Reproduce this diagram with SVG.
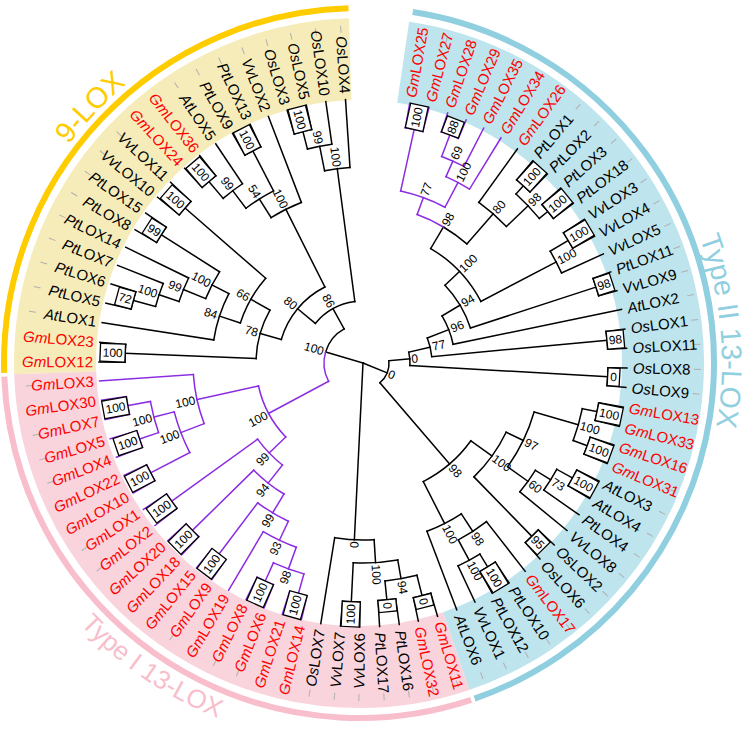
<svg xmlns="http://www.w3.org/2000/svg" width="754" height="730" viewBox="0 0 754 730">
<style>
.k{stroke:#000;stroke-width:1.5;fill:none;stroke-linecap:square}
.p{stroke:#8B2BE2;stroke-width:1.5;fill:none;stroke-linecap:square}
.bx{stroke:#000;stroke-width:1.3;fill:#fff}
.lf text{font-family:"Liberation Sans",Arial,sans-serif;font-size:15px}
.lf .r{fill:#FF0000}
.bs text{font-family:"Liberation Sans",Arial,sans-serif;font-size:12px;text-anchor:middle}
.tk line{stroke:#b0b0b0;stroke-width:1}
.i{font-style:italic}
</style>
<defs>
<path id="cw" d="M -363 0 A 363 363 0 1 1 363 0 A 363 363 0 1 1 -363 0"/>
<path id="ccw" d="M 382 0 A 382 382 0 1 0 -382 0 A 382 382 0 1 0 382 0"/>
</defs>
<rect width="754" height="730" fill="#fff"/>
<g id="bands" transform="translate(359 363)" fill="none" stroke-width="82">
<circle r="304" stroke="#F6ECBA" pathLength="360" stroke-dasharray="90.2 400" transform="rotate(178.15)"/>
<circle r="304" stroke="#BEE4ED" pathLength="360" stroke-dasharray="153 400" transform="rotate(278.35)"/>
<circle r="304" stroke="#F9D4DC" pathLength="360" stroke-dasharray="106.8 400" transform="rotate(71.35)"/>
</g>
<g id="group-arcs" transform="translate(359 363)" fill="none" stroke-width="6">
<circle r="355" stroke="#FFCC00" pathLength="360" stroke-dasharray="89.9 400" transform="rotate(178.4)"/>
<circle r="355" stroke="#90CFE0" pathLength="360" stroke-dasharray="152.3 400" transform="rotate(278.7)"/>
<circle r="355" stroke="#F8BECB" pathLength="360" stroke-dasharray="106.2 400" transform="rotate(71.6)"/>
</g>
<g id="group-labels" transform="translate(359 363)" font-family="Liberation Sans, Arial, sans-serif">
<text font-size="29" fill="#FFCC00"><textPath href="#cw" startOffset="276" text-anchor="middle">9-LOX</textPath></text>
<text font-size="28.5" fill="#90CFE0"><textPath href="#cw" startOffset="1108" text-anchor="middle">Type II 13-LOX</textPath></text>
<text font-size="26" fill="#F8BECB"><textPath href="#ccw" startOffset="1571" text-anchor="middle">Type I 13-LOX</textPath></text>
</g>
<g transform="translate(363 363)">
<g class="tk" id="ticks">
<line x1="331" x2="338" transform="rotate(180.2)"/><line x1="331" x2="338" transform="rotate(184.5)"/><line x1="331" x2="338" transform="rotate(188.8)"/><line x1="331" x2="338" transform="rotate(193.1)"/><line x1="331" x2="338" transform="rotate(197.4)"/><line x1="331" x2="338" transform="rotate(201.7)"/><line x1="331" x2="338" transform="rotate(206)"/><line x1="331" x2="338" transform="rotate(210.3)"/><line x1="331" x2="338" transform="rotate(214.6)"/><line x1="331" x2="338" transform="rotate(218.9)"/><line x1="331" x2="338" transform="rotate(223.2)"/><line x1="331" x2="338" transform="rotate(227.5)"/><line x1="331" x2="338" transform="rotate(231.8)"/><line x1="331" x2="338" transform="rotate(236.1)"/><line x1="331" x2="338" transform="rotate(240.4)"/><line x1="331" x2="338" transform="rotate(244.7)"/><line x1="331" x2="338" transform="rotate(249)"/><line x1="331" x2="338" transform="rotate(253.3)"/><line x1="331" x2="338" transform="rotate(257.6)"/><line x1="331" x2="338" transform="rotate(261.9)"/><line x1="331" x2="338" transform="rotate(266.2)"/>
<line x1="331" x2="338" transform="rotate(280.2)"/><line x1="331" x2="338" transform="rotate(284.5)"/><line x1="331" x2="338" transform="rotate(288.7)"/><line x1="331" x2="338" transform="rotate(293)"/><line x1="331" x2="338" transform="rotate(297.2)"/><line x1="331" x2="338" transform="rotate(301.5)"/><line x1="331" x2="338" transform="rotate(305.8)"/><line x1="331" x2="338" transform="rotate(310)"/><line x1="331" x2="338" transform="rotate(314.3)"/><line x1="331" x2="338" transform="rotate(318.5)"/><line x1="331" x2="338" transform="rotate(322.8)"/><line x1="331" x2="338" transform="rotate(327)"/><line x1="331" x2="338" transform="rotate(331.3)"/><line x1="331" x2="338" transform="rotate(335.6)"/><line x1="331" x2="338" transform="rotate(339.8)"/><line x1="331" x2="338" transform="rotate(344.1)"/><line x1="331" x2="338" transform="rotate(348.3)"/><line x1="331" x2="338" transform="rotate(352.6)"/><line x1="331" x2="338" transform="rotate(356.8)"/>
<line x1="331" x2="338" transform="rotate(1.1)"/><line x1="331" x2="338" transform="rotate(5.3)"/><line x1="331" x2="338" transform="rotate(9.6)"/><line x1="331" x2="338" transform="rotate(13.9)"/><line x1="331" x2="338" transform="rotate(18.1)"/><line x1="331" x2="338" transform="rotate(22.4)"/><line x1="331" x2="338" transform="rotate(26.6)"/><line x1="331" x2="338" transform="rotate(30.9)"/><line x1="331" x2="338" transform="rotate(35.1)"/><line x1="331" x2="338" transform="rotate(39.4)"/><line x1="331" x2="338" transform="rotate(43.6)"/><line x1="331" x2="338" transform="rotate(47.9)"/><line x1="331" x2="338" transform="rotate(52.1)"/><line x1="331" x2="338" transform="rotate(56.4)"/><line x1="331" x2="338" transform="rotate(60.7)"/><line x1="331" x2="338" transform="rotate(64.9)"/><line x1="331" x2="338" transform="rotate(69.2)"/>
<line x1="331" x2="338" transform="rotate(73.6)"/><line x1="331" x2="338" transform="rotate(77.9)"/><line x1="331" x2="338" transform="rotate(82.1)"/><line x1="331" x2="338" transform="rotate(86.4)"/><line x1="331" x2="338" transform="rotate(90.7)"/><line x1="331" x2="338" transform="rotate(94.9)"/><line x1="331" x2="338" transform="rotate(99.2)"/><line x1="331" x2="338" transform="rotate(103.5)"/><line x1="331" x2="338" transform="rotate(107.8)"/><line x1="331" x2="338" transform="rotate(112)"/><line x1="331" x2="338" transform="rotate(116.3)"/><line x1="331" x2="338" transform="rotate(120.6)"/><line x1="331" x2="338" transform="rotate(124.9)"/><line x1="331" x2="338" transform="rotate(129.1)"/><line x1="331" x2="338" transform="rotate(133.4)"/><line x1="331" x2="338" transform="rotate(137.7)"/><line x1="331" x2="338" transform="rotate(142)"/><line x1="331" x2="338" transform="rotate(146.3)"/><line x1="331" x2="338" transform="rotate(150.5)"/><line x1="331" x2="338" transform="rotate(154.8)"/><line x1="331" x2="338" transform="rotate(159.1)"/><line x1="331" x2="338" transform="rotate(163.3)"/><line x1="331" x2="338" transform="rotate(167.6)"/><line x1="331" x2="338" transform="rotate(171.9)"/><line x1="331" x2="338" transform="rotate(176.1)"/>
</g>
<g id="connectors">
<g class="k">
<line x1="238" x2="264" transform="rotate(180.2)"/><line x1="238" x2="264" transform="rotate(184.5)"/><line x1="151" x2="264" transform="rotate(188.8)"/><line x1="238" x2="264" transform="rotate(193.1)"/><line x1="238" x2="264" transform="rotate(197.4)"/><line x1="215" x2="264" transform="rotate(201.7)"/><line x1="194" x2="264" transform="rotate(206)"/><line x1="239" x2="264" transform="rotate(210.3)"/><line x1="239" x2="264" transform="rotate(214.6)"/><line x1="236" x2="264" transform="rotate(218.9)"/><line x1="236" x2="264" transform="rotate(223.2)"/><line x1="238" x2="264" transform="rotate(227.5)"/><line x1="238" x2="264" transform="rotate(231.8)"/><line x1="216" x2="264" transform="rotate(236.1)"/><line x1="239" x2="264" transform="rotate(240.4)"/><line x1="239" x2="264" transform="rotate(244.7)"/><line x1="172" x2="264" transform="rotate(249)"/><line x1="239" x2="264" transform="rotate(253.3)"/><line x1="239" x2="264" transform="rotate(257.6)"/><line x1="221" x2="264" transform="rotate(261.9)"/><line x1="196" x2="264" transform="rotate(266.2)"/>
<line x1="107" x2="238" transform="rotate(182.35)"/><line x1="215" x2="238" transform="rotate(195.25)"/><line x1="194" x2="215" transform="rotate(198.5)"/><line x1="170" x2="194" transform="rotate(202.25)"/><line x1="170" x2="239" transform="rotate(212.45)"/><line x1="151" x2="170" transform="rotate(207.35)"/><line x1="129" x2="151" transform="rotate(198.1)"/><line x1="129" x2="236" transform="rotate(221.05)"/><line x1="107" x2="129" transform="rotate(209.6)"/><line x1="85" x2="107" transform="rotate(196)"/><line x1="216" x2="238" transform="rotate(229.65)"/><line x1="194" x2="216" transform="rotate(232.9)"/><line x1="194" x2="239" transform="rotate(242.55)"/><line x1="172" x2="194" transform="rotate(237.7)"/><line x1="85" x2="172" transform="rotate(243.35)"/><line x1="221" x2="239" transform="rotate(255.45)"/><line x1="196" x2="221" transform="rotate(258.7)"/><line x1="62" x2="196" transform="rotate(262.45)"/><line x1="62" x2="85" transform="rotate(219.7)"/><line x1="39" x2="62" transform="rotate(241.1)"/><line x1="0" x2="39" transform="rotate(196.5)"/>
<circle r="238" pathLength="360" stroke-dasharray="4.3 400" transform="rotate(180.2)"/><circle r="238" pathLength="360" stroke-dasharray="4.3 400" transform="rotate(193.1)"/><circle r="215" pathLength="360" stroke-dasharray="6.45 400" transform="rotate(195.25)"/><circle r="194" pathLength="360" stroke-dasharray="7.5 400" transform="rotate(198.5)"/><circle r="239" pathLength="360" stroke-dasharray="4.3 400" transform="rotate(210.3)"/><circle r="170" pathLength="360" stroke-dasharray="10.2 400" transform="rotate(202.25)"/><circle r="151" pathLength="360" stroke-dasharray="18.55 400" transform="rotate(188.8)"/><circle r="236" pathLength="360" stroke-dasharray="4.3 400" transform="rotate(218.9)"/><circle r="129" pathLength="360" stroke-dasharray="22.95 400" transform="rotate(198.1)"/><circle r="107" pathLength="360" stroke-dasharray="27.25 400" transform="rotate(182.35)"/><circle r="238" pathLength="360" stroke-dasharray="4.3 400" transform="rotate(227.5)"/><circle r="216" pathLength="360" stroke-dasharray="6.45 400" transform="rotate(229.65)"/><circle r="239" pathLength="360" stroke-dasharray="4.3 400" transform="rotate(240.4)"/><circle r="194" pathLength="360" stroke-dasharray="9.65 400" transform="rotate(232.9)"/><circle r="172" pathLength="360" stroke-dasharray="11.3 400" transform="rotate(237.7)"/><circle r="239" pathLength="360" stroke-dasharray="4.3 400" transform="rotate(253.3)"/><circle r="221" pathLength="360" stroke-dasharray="6.45 400" transform="rotate(255.45)"/><circle r="196" pathLength="360" stroke-dasharray="7.5 400" transform="rotate(258.7)"/><circle r="85" pathLength="360" stroke-dasharray="47.35 400" transform="rotate(196)"/><circle r="62" pathLength="360" stroke-dasharray="42.75 400" transform="rotate(219.7)"/><circle r="39" pathLength="360" stroke-dasharray="44.6 400" transform="rotate(196.5)"/>
<line x1="240" x2="264" transform="rotate(73.6)"/><line x1="240" x2="264" transform="rotate(77.9)"/><line x1="238" x2="264" transform="rotate(82.1)"/><line x1="238" x2="264" transform="rotate(86.4)"/><line x1="239" x2="264" transform="rotate(90.7)"/><line x1="239" x2="264" transform="rotate(94.9)"/><line x1="177" x2="264" transform="rotate(99.2)"/>
<line x1="219" x2="240" transform="rotate(75.75)"/><line x1="219" x2="238" transform="rotate(84.25)"/><line x1="200" x2="219" transform="rotate(80)"/><line x1="200" x2="239" transform="rotate(92.8)"/><line x1="177" x2="200" transform="rotate(86.4)"/><line x1="0" x2="177" transform="rotate(92.8)"/>
<circle r="240" pathLength="360" stroke-dasharray="4.3 400" transform="rotate(73.6)"/><circle r="238" pathLength="360" stroke-dasharray="4.3 400" transform="rotate(82.1)"/><circle r="219" pathLength="360" stroke-dasharray="8.5 400" transform="rotate(75.75)"/><circle r="239" pathLength="360" stroke-dasharray="4.2 400" transform="rotate(90.7)"/><circle r="200" pathLength="360" stroke-dasharray="12.8 400" transform="rotate(80)"/><circle r="177" pathLength="360" stroke-dasharray="12.8 400" transform="rotate(86.4)"/>
<line x1="198" x2="264" transform="rotate(305.8)"/><line x1="239" x2="264" transform="rotate(310)"/><line x1="239" x2="264" transform="rotate(314.3)"/><line x1="239" x2="264" transform="rotate(318.5)"/><line x1="239" x2="264" transform="rotate(322.8)"/><line x1="239" x2="264" transform="rotate(327)"/><line x1="239" x2="264" transform="rotate(331.3)"/><line x1="218" x2="264" transform="rotate(335.6)"/><line x1="245" x2="264" transform="rotate(339.8)"/><line x1="245" x2="264" transform="rotate(344.1)"/><line x1="92" x2="264" transform="rotate(348.3)"/><line x1="245" x2="264" transform="rotate(352.6)"/><line x1="245" x2="264" transform="rotate(356.8)"/><line x1="245" x2="264" transform="rotate(1.1)"/><line x1="245" x2="264" transform="rotate(5.3)"/><line x1="239" x2="264" transform="rotate(9.6)"/><line x1="239" x2="264" transform="rotate(13.9)"/><line x1="239" x2="264" transform="rotate(18.1)"/><line x1="239" x2="264" transform="rotate(22.4)"/><line x1="239" x2="264" transform="rotate(26.6)"/><line x1="239" x2="264" transform="rotate(30.9)"/><line x1="221" x2="264" transform="rotate(35.1)"/><line x1="203" x2="264" transform="rotate(39.4)"/><line x1="242" x2="264" transform="rotate(43.6)"/><line x1="242" x2="264" transform="rotate(47.9)"/><line x1="201" x2="264" transform="rotate(52.1)"/><line x1="239" x2="264" transform="rotate(56.4)"/><line x1="239" x2="264" transform="rotate(60.7)"/><line x1="224" x2="264" transform="rotate(64.9)"/><line x1="180" x2="264" transform="rotate(69.2)"/>
<line x1="228" x2="239" transform="rotate(312.15)"/><line x1="228" x2="239" transform="rotate(320.65)"/><line x1="198" x2="228" transform="rotate(316.4)"/><line x1="158" x2="198" transform="rotate(311.1)"/><line x1="133" x2="158" transform="rotate(300.6)"/><line x1="218" x2="239" transform="rotate(329.15)"/><line x1="133" x2="218" transform="rotate(332.4)"/><line x1="113" x2="133" transform="rotate(316.5)"/><line x1="113" x2="245" transform="rotate(341.95)"/><line x1="92" x2="113" transform="rotate(329.2)"/><line x1="69" x2="92" transform="rotate(338.75)"/><line x1="69" x2="245" transform="rotate(354.7)"/><line x1="47" x2="69" transform="rotate(346.7)"/><line x1="47" x2="245" transform="rotate(3.2)"/><line x1="26" x2="47" transform="rotate(354.95)"/>
<line x1="224" x2="239" transform="rotate(11.75)"/><line x1="224" x2="239" transform="rotate(20.25)"/><line x1="178" x2="224" transform="rotate(16)"/><line x1="221" x2="239" transform="rotate(28.75)"/><line x1="203" x2="221" transform="rotate(31.9)"/><line x1="178" x2="203" transform="rotate(35.65)"/><line x1="159" x2="178" transform="rotate(25.8)"/><line x1="159" x2="242" transform="rotate(45.75)"/><line x1="133" x2="159" transform="rotate(35.8)"/><line x1="224" x2="239" transform="rotate(58.55)"/><line x1="201" x2="224" transform="rotate(61.7)"/><line x1="180" x2="201" transform="rotate(56.9)"/><line x1="133" x2="180" transform="rotate(63.05)"/><line x1="26" x2="133" transform="rotate(49.4)"/><line x1="0" x2="26" transform="rotate(22.2)"/>
<circle r="158" pathLength="360" stroke-dasharray="10.5 400" transform="rotate(300.6)"/><circle r="239" pathLength="360" stroke-dasharray="4.3 400" transform="rotate(310)"/><circle r="239" pathLength="360" stroke-dasharray="4.3 400" transform="rotate(318.5)"/><circle r="228" pathLength="360" stroke-dasharray="8.5 400" transform="rotate(312.15)"/><circle r="198" pathLength="360" stroke-dasharray="10.6 400" transform="rotate(305.8)"/><circle r="239" pathLength="360" stroke-dasharray="4.3 400" transform="rotate(327)"/><circle r="218" pathLength="360" stroke-dasharray="6.45 400" transform="rotate(329.15)"/><circle r="133" pathLength="360" stroke-dasharray="31.8 400" transform="rotate(300.6)"/><circle r="245" pathLength="360" stroke-dasharray="4.3 400" transform="rotate(339.8)"/><circle r="113" pathLength="360" stroke-dasharray="25.45 400" transform="rotate(316.5)"/><circle r="92" pathLength="360" stroke-dasharray="19.1 400" transform="rotate(329.2)"/><circle r="245" pathLength="360" stroke-dasharray="4.2 400" transform="rotate(352.6)"/><circle r="69" pathLength="360" stroke-dasharray="15.95 400" transform="rotate(338.75)"/><circle r="245" pathLength="360" stroke-dasharray="4.2 400" transform="rotate(1.1)"/><circle r="47" pathLength="360" stroke-dasharray="16.5 400" transform="rotate(346.7)"/>
<circle r="239" pathLength="360" stroke-dasharray="4.3 400" transform="rotate(9.6)"/><circle r="239" pathLength="360" stroke-dasharray="4.3 400" transform="rotate(18.1)"/><circle r="224" pathLength="360" stroke-dasharray="8.5 400" transform="rotate(11.75)"/><circle r="239" pathLength="360" stroke-dasharray="4.3 400" transform="rotate(26.6)"/><circle r="221" pathLength="360" stroke-dasharray="6.35 400" transform="rotate(28.75)"/><circle r="203" pathLength="360" stroke-dasharray="7.5 400" transform="rotate(31.9)"/><circle r="178" pathLength="360" stroke-dasharray="19.65 400" transform="rotate(16)"/><circle r="242" pathLength="360" stroke-dasharray="4.3 400" transform="rotate(43.6)"/><circle r="159" pathLength="360" stroke-dasharray="19.95 400" transform="rotate(25.8)"/><circle r="239" pathLength="360" stroke-dasharray="4.3 400" transform="rotate(56.4)"/><circle r="224" pathLength="360" stroke-dasharray="6.35 400" transform="rotate(58.55)"/><circle r="201" pathLength="360" stroke-dasharray="9.6 400" transform="rotate(52.1)"/><circle r="180" pathLength="360" stroke-dasharray="12.3 400" transform="rotate(56.9)"/><circle r="133" pathLength="360" stroke-dasharray="27.25 400" transform="rotate(35.8)"/><circle r="26" pathLength="360" stroke-dasharray="54.45 400" transform="rotate(-5.05)"/>
</g>
<g class="p">
<line x1="240" x2="264" transform="rotate(103.5)"/><line x1="240" x2="264" transform="rotate(107.8)"/><line x1="239" x2="264" transform="rotate(112)"/><line x1="239" x2="264" transform="rotate(116.3)"/><line x1="196" x2="264" transform="rotate(120.6)"/><line x1="240" x2="264" transform="rotate(124.9)"/><line x1="240" x2="264" transform="rotate(129.1)"/><line x1="239" x2="264" transform="rotate(133.4)"/><line x1="239" x2="264" transform="rotate(137.7)"/><line x1="236" x2="264" transform="rotate(142)"/><line x1="236" x2="264" transform="rotate(146.3)"/><line x1="239" x2="264" transform="rotate(150.5)"/><line x1="239" x2="264" transform="rotate(154.8)"/><line x1="236" x2="264" transform="rotate(159.1)"/><line x1="236" x2="264" transform="rotate(163.3)"/><line x1="239" x2="264" transform="rotate(167.6)"/><line x1="239" x2="264" transform="rotate(171.9)"/><line x1="170" x2="264" transform="rotate(176.1)"/>
<line x1="216" x2="239" transform="rotate(169.75)"/><line x1="216" x2="236" transform="rotate(161.2)"/><line x1="195" x2="216" transform="rotate(165.5)"/><line x1="195" x2="239" transform="rotate(152.65)"/><line x1="170" x2="195" transform="rotate(159.1)"/><line x1="107" x2="170" transform="rotate(167.6)"/><line x1="130" x2="236" transform="rotate(144.15)"/><line x1="153" x2="239" transform="rotate(135.55)"/><line x1="175" x2="240" transform="rotate(127)"/><line x1="219" x2="239" transform="rotate(114.15)"/><line x1="219" x2="240" transform="rotate(105.65)"/><line x1="196" x2="219" transform="rotate(109.9)"/><line x1="175" x2="196" transform="rotate(115.25)"/><line x1="153" x2="175" transform="rotate(121.1)"/><line x1="130" x2="153" transform="rotate(128.3)"/><line x1="107" x2="130" transform="rotate(136.2)"/><line x1="39" x2="107" transform="rotate(151.9)"/>
<circle r="239" pathLength="360" stroke-dasharray="4.3 400" transform="rotate(167.6)"/><circle r="236" pathLength="360" stroke-dasharray="4.2 400" transform="rotate(159.1)"/><circle r="216" pathLength="360" stroke-dasharray="8.55 400" transform="rotate(161.2)"/><circle r="239" pathLength="360" stroke-dasharray="4.3 400" transform="rotate(150.5)"/><circle r="195" pathLength="360" stroke-dasharray="12.85 400" transform="rotate(152.65)"/><circle r="170" pathLength="360" stroke-dasharray="17 400" transform="rotate(159.1)"/><circle r="236" pathLength="360" stroke-dasharray="4.3 400" transform="rotate(142)"/><circle r="239" pathLength="360" stroke-dasharray="4.3 400" transform="rotate(133.4)"/><circle r="240" pathLength="360" stroke-dasharray="4.2 400" transform="rotate(124.9)"/><circle r="239" pathLength="360" stroke-dasharray="4.3 400" transform="rotate(112)"/><circle r="240" pathLength="360" stroke-dasharray="4.3 400" transform="rotate(103.5)"/><circle r="219" pathLength="360" stroke-dasharray="8.5 400" transform="rotate(105.65)"/><circle r="196" pathLength="360" stroke-dasharray="10.7 400" transform="rotate(109.9)"/><circle r="175" pathLength="360" stroke-dasharray="11.75 400" transform="rotate(115.25)"/><circle r="153" pathLength="360" stroke-dasharray="14.45 400" transform="rotate(121.1)"/><circle r="130" pathLength="360" stroke-dasharray="15.85 400" transform="rotate(128.3)"/><circle r="107" pathLength="360" stroke-dasharray="31.4 400" transform="rotate(136.2)"/><circle r="39" pathLength="360" stroke-dasharray="44.6 400" transform="rotate(151.9)"/>
<line x1="239" x2="264" transform="rotate(280.2)"/><line x1="239" x2="264" transform="rotate(284.5)"/><line x1="244" x2="264" transform="rotate(288.7)"/><line x1="244" x2="264" transform="rotate(293)"/><line x1="221" x2="264" transform="rotate(297.2)"/><line x1="204" x2="264" transform="rotate(301.5)"/>
<line x1="176" x2="239" transform="rotate(282.35)"/><line x1="221" x2="244" transform="rotate(290.85)"/><line x1="204" x2="221" transform="rotate(294)"/><line x1="176" x2="204" transform="rotate(297.75)"/><line x1="158" x2="176" transform="rotate(290.05)"/>
<circle r="239" pathLength="360" stroke-dasharray="4.3 400" transform="rotate(280.2)"/><circle r="244" pathLength="360" stroke-dasharray="4.3 400" transform="rotate(288.7)"/><circle r="221" pathLength="360" stroke-dasharray="6.35 400" transform="rotate(290.85)"/><circle r="204" pathLength="360" stroke-dasharray="7.5 400" transform="rotate(294)"/><circle r="176" pathLength="360" stroke-dasharray="15.4 400" transform="rotate(282.35)"/><circle r="158" pathLength="360" stroke-dasharray="10.55 400" transform="rotate(290.05)"/>
</g>
</g>
<g class="bs" id="nodes">
<g id="n_G12_23"><rect class="bx" x="238" y="-9" width="25" height="18" transform="rotate(182.35)"/><text transform="rotate(2.35)" x="-250.5" dy=".35em">100</text></g>
<g id="n_Pt5_6"><rect class="bx" x="238" y="-9" width="17" height="18" transform="rotate(195.25)"/><text transform="rotate(15.25)" x="-246.5" dy=".35em">72</text></g>
<g id="n_Pt8_15"><rect class="bx" x="239" y="-9" width="17" height="18" transform="rotate(212.45)"/><text transform="rotate(32.45)" x="-247.5" dy=".35em">99</text></g>
<g id="n_Vv10_11"><rect class="bx" x="236" y="-9" width="25" height="18" transform="rotate(221.05)"/><text transform="rotate(41.05)" x="-248.5" dy=".35em">100</text></g>
<g id="n_G24_36"><rect class="bx" x="238" y="-9" width="25" height="18" transform="rotate(229.65)"/><text transform="rotate(49.65)" x="-250.5" dy=".35em">100</text></g>
<g id="n_Pt9_13"><rect class="bx" x="239" y="-9" width="25" height="18" transform="rotate(242.55)"/><text transform="rotate(62.55)" x="-251.5" dy=".35em">100</text></g>
<g id="n_Os3_5"><rect class="bx" x="239" y="-9" width="25" height="18" transform="rotate(255.45)"/><text transform="rotate(75.45)" x="-251.5" dy=".35em">100</text></g>
<g id="n_B"><text transform="rotate(18.5)" x="-227" dy=".35em">100</text></g>
<g id="n_C"><text transform="rotate(22.25)" x="-203" dy=".35em">99</text></g>
<g id="n_E"><text transform="rotate(27.35)" x="-182" dy=".35em">100</text></g>
<g id="n_F"><text transform="rotate(18.1)" x="-160" dy=".35em">84</text></g>
<g id="n_H"><text transform="rotate(29.6)" x="-138" dy=".35em">66</text></g>
<g id="n_I"><text transform="rotate(16)" x="-116" dy=".35em">78</text></g>
<g id="n_K"><text transform="rotate(52.9)" x="-225" dy=".35em">99</text></g>
<g id="n_M"><text transform="rotate(57.7)" x="-203" dy=".35em">54</text></g>
<g id="n_N"><text transform="rotate(63.35)" x="-184" dy=".35em">100</text></g>
<g id="n_P"><text transform="rotate(78.7)" x="-230" dy=".35em">99</text></g>
<g id="n_Q"><text transform="rotate(82.45)" x="-208" dy=".35em">100</text></g>
<g id="n_S80"><text transform="rotate(39.7)" x="-94" dy=".35em">80</text></g>
<g id="n_R86"><text transform="rotate(61.1)" x="-71" dy=".35em">86</text></g>
<g id="n_T"><text transform="rotate(16.5)" x="-51" dy=".35em">100</text></g>
<g id="n_p1"><rect class="bx" x="239" y="-9" width="25" height="18" transform="rotate(169.75)"/><text transform="rotate(-10.25)" x="-251.5" dy=".35em">100</text></g>
<g id="n_p2"><rect class="bx" x="236" y="-9" width="25" height="18" transform="rotate(161.2)"/><text transform="rotate(-18.8)" x="-248.5" dy=".35em">100</text></g>
<g id="n_p4"><rect class="bx" x="239" y="-9" width="25" height="18" transform="rotate(152.65)"/><text transform="rotate(-27.35)" x="-251.5" dy=".35em">100</text></g>
<g id="n_p7"><rect class="bx" x="236" y="-9" width="25" height="18" transform="rotate(144.15)"/><text transform="rotate(-35.85)" x="-248.5" dy=".35em">100</text></g>
<g id="n_p8"><rect class="bx" x="239" y="-9" width="25" height="18" transform="rotate(135.55)"/><text transform="rotate(-44.45)" x="-251.5" dy=".35em">100</text></g>
<g id="n_p9"><rect class="bx" x="239" y="-9" width="25" height="18" transform="rotate(127)"/><text transform="rotate(-53)" x="-251.5" dy=".35em">100</text></g>
<g id="n_p10"><rect class="bx" x="239" y="-9" width="25" height="18" transform="rotate(114.15)"/><text transform="rotate(-65.85)" x="-251.5" dy=".35em">100</text></g>
<g id="n_p11"><rect class="bx" x="239" y="-9" width="25" height="18" transform="rotate(105.65)"/><text transform="rotate(-74.35)" x="-251.5" dy=".35em">100</text></g>
<g id="n_p3"><text transform="rotate(-14.5)" x="-228" dy=".35em">100</text></g>
<g id="n_p5"><text transform="rotate(-20.9)" x="-207" dy=".35em">100</text></g>
<g id="n_p6"><text transform="rotate(-12.4)" x="-182" dy=".35em">100</text></g>
<g id="n_p12"><text transform="rotate(-70.1)" x="-228" dy=".35em">98</text></g>
<g id="n_p13"><text transform="rotate(-64.75)" x="-205" dy=".35em">93</text></g>
<g id="n_p14"><text transform="rotate(-58.9)" x="-184" dy=".35em">99</text></g>
<g id="n_p15"><text transform="rotate(-51.7)" x="-162" dy=".35em">94</text></g>
<g id="n_p16"><text transform="rotate(-43.8)" x="-139" dy=".35em">99</text></g>
<g id="n_p17"><text transform="rotate(-28.1)" x="-119" dy=".35em">100</text></g>
<g id="n_z1"><rect class="bx" x="240" y="-9" width="12" height="18" transform="rotate(75.75)"/><text transform="rotate(75.75)" x="246" dy=".35em">0</text></g>
<g id="n_z2"><rect class="bx" x="238" y="-9" width="12" height="18" transform="rotate(84.25)"/><text transform="rotate(84.25)" x="244" dy=".35em">0</text></g>
<g id="n_z4"><rect class="bx" x="239" y="-9" width="25" height="18" transform="rotate(92.8)"/><text transform="rotate(-87.2)" x="-251.5" dy=".35em">100</text></g>
<g id="n_z3"><text transform="rotate(80)" x="228" dy=".35em">94</text></g>
<g id="n_z5"><text transform="rotate(86.4)" x="212" dy=".35em">100</text></g>
<g id="n_Z"><text transform="rotate(-87.2)" x="-182" dy=".35em">0</text></g>
<g id="n_q1"><rect class="bx" x="239" y="-9" width="25" height="18" transform="rotate(282.35)"/><text transform="rotate(282.35)" x="251.5" dy=".35em">100</text></g>
<g id="n_q2"><rect class="bx" x="244" y="-9" width="17" height="18" transform="rotate(290.85)"/><text transform="rotate(290.85)" x="252.5" dy=".35em">88</text></g>
<g id="n_q3"><text transform="rotate(294)" x="230" dy=".35em">69</text></g>
<g id="n_q4"><text transform="rotate(297.75)" x="216" dy=".35em">100</text></g>
<g id="n_q5"><text transform="rotate(290.05)" x="185" dy=".35em">77</text></g>
<g id="n_k1"><rect class="bx" x="239" y="-9" width="25" height="18" transform="rotate(312.15)"/><text transform="rotate(312.15)" x="251.5" dy=".35em">100</text></g>
<g id="n_k2"><rect class="bx" x="239" y="-9" width="25" height="18" transform="rotate(320.65)"/><text transform="rotate(320.65)" x="251.5" dy=".35em">100</text></g>
<g id="n_k3"><text transform="rotate(316.4)" x="237" dy=".35em">98</text></g>
<g id="n_k4"><text transform="rotate(311.1)" x="207" dy=".35em">80</text></g>
<g id="n_q6"><text transform="rotate(300.6)" x="167" dy=".35em">98</text></g>
<g id="n_v1"><rect class="bx" x="239" y="-9" width="25" height="18" transform="rotate(329.15)"/><text transform="rotate(329.15)" x="251.5" dy=".35em">100</text></g>
<g id="n_v2"><text transform="rotate(332.4)" x="230" dy=".35em">100</text></g>
<g id="n_X1"><text transform="rotate(316.5)" x="145" dy=".35em">100</text></g>
<g id="n_w1"><rect class="bx" x="245" y="-9" width="17" height="18" transform="rotate(341.95)"/><text transform="rotate(341.95)" x="253.5" dy=".35em">98</text></g>
<g id="n_X2"><text transform="rotate(329.2)" x="122" dy=".35em">94</text></g>
<g id="n_X3"><text transform="rotate(338.75)" x="101" dy=".35em">96</text></g>
<g id="n_o1"><rect class="bx" x="245" y="-9" width="17" height="18" transform="rotate(354.7)"/><text transform="rotate(354.7)" x="253.5" dy=".35em">98</text></g>
<g id="n_W"><text transform="rotate(346.7)" x="78" dy=".35em">77</text></g>
<g id="n_o2"><rect class="bx" x="245" y="-9" width="12" height="18" transform="rotate(3.2)"/><text transform="rotate(3.2)" x="251" dy=".35em">0</text></g>
<g id="n_V"><text transform="rotate(354.95)" x="52" dy=".35em">0</text></g>
<g id="n_a1"><rect class="bx" x="239" y="-9" width="25" height="18" transform="rotate(11.75)"/><text transform="rotate(11.75)" x="251.5" dy=".35em">100</text></g>
<g id="n_a2"><rect class="bx" x="239" y="-9" width="25" height="18" transform="rotate(20.25)"/><text transform="rotate(20.25)" x="251.5" dy=".35em">100</text></g>
<g id="n_a3"><text transform="rotate(16)" x="236" dy=".35em">100</text></g>
<g id="n_a4"><rect class="bx" x="239" y="-9" width="25" height="18" transform="rotate(28.75)"/><text transform="rotate(28.75)" x="251.5" dy=".35em">100</text></g>
<g id="n_a5"><text transform="rotate(31.9)" x="230" dy=".35em">73</text></g>
<g id="n_a6"><text transform="rotate(35.65)" x="212" dy=".35em">60</text></g>
<g id="n_a7"><text transform="rotate(25.8)" x="187" dy=".35em">97</text></g>
<g id="n_a8"><rect class="bx" x="242" y="-9" width="17" height="18" transform="rotate(45.75)"/><text transform="rotate(45.75)" x="250.5" dy=".35em">95</text></g>
<g id="n_a9"><text transform="rotate(35.8)" x="171" dy=".35em">100</text></g>
<g id="n_b1"><rect class="bx" x="239" y="-9" width="25" height="18" transform="rotate(58.55)"/><text transform="rotate(58.55)" x="251.5" dy=".35em">100</text></g>
<g id="n_b2"><text transform="rotate(61.7)" x="236" dy=".35em">100</text></g>
<g id="n_b3"><text transform="rotate(56.9)" x="210" dy=".35em">98</text></g>
<g id="n_b4"><text transform="rotate(63.05)" x="192" dy=".35em">100</text></g>
<g id="n_Y"><text transform="rotate(49.4)" x="142" dy=".35em">98</text></g>
<g id="n_U"><text transform="rotate(22.2)" x="31" dy=".35em">0</text></g>
</g>
<g class="lf" id="leaves">
<g id="GmLOX12"><text class="r" transform="rotate(0.2)" x="-270" dy=".35em" text-anchor="end"><tspan class="i">Gm</tspan>LOX12</text></g>
<g id="GmLOX23"><text class="r" transform="rotate(4.5)" x="-270" dy=".35em" text-anchor="end"><tspan class="i">Gm</tspan>LOX23</text></g>
<g id="AtLOX1"><text transform="rotate(8.8)" x="-270" dy=".35em" text-anchor="end"><tspan class="i">At</tspan>LOX1</text></g>
<g id="PtLOX5"><text transform="rotate(13.1)" x="-270" dy=".35em" text-anchor="end"><tspan class="i">Pt</tspan>LOX5</text></g>
<g id="PtLOX6"><text transform="rotate(17.4)" x="-270" dy=".35em" text-anchor="end"><tspan class="i">Pt</tspan>LOX6</text></g>
<g id="PtLOX7"><text transform="rotate(21.7)" x="-270" dy=".35em" text-anchor="end"><tspan class="i">Pt</tspan>LOX7</text></g>
<g id="PtLOX14"><text transform="rotate(26)" x="-270" dy=".35em" text-anchor="end"><tspan class="i">Pt</tspan>LOX14</text></g>
<g id="PtLOX8"><text transform="rotate(30.3)" x="-270" dy=".35em" text-anchor="end"><tspan class="i">Pt</tspan>LOX8</text></g>
<g id="PtLOX15"><text transform="rotate(34.6)" x="-270" dy=".35em" text-anchor="end"><tspan class="i">Pt</tspan>LOX15</text></g>
<g id="VvLOX10"><text transform="rotate(38.9)" x="-270" dy=".35em" text-anchor="end"><tspan class="i">Vv</tspan>LOX10</text></g>
<g id="VvLOX11"><text transform="rotate(43.2)" x="-270" dy=".35em" text-anchor="end"><tspan class="i">Vv</tspan>LOX11</text></g>
<g id="GmLOX24"><text class="r" transform="rotate(47.5)" x="-270" dy=".35em" text-anchor="end"><tspan class="i">Gm</tspan>LOX24</text></g>
<g id="GmLOX36"><text class="r" transform="rotate(51.8)" x="-270" dy=".35em" text-anchor="end"><tspan class="i">Gm</tspan>LOX36</text></g>
<g id="AtLOX5"><text transform="rotate(56.1)" x="-270" dy=".35em" text-anchor="end"><tspan class="i">At</tspan>LOX5</text></g>
<g id="PtLOX9"><text transform="rotate(60.4)" x="-270" dy=".35em" text-anchor="end"><tspan class="i">Pt</tspan>LOX9</text></g>
<g id="PtLOX13"><text transform="rotate(64.7)" x="-270" dy=".35em" text-anchor="end"><tspan class="i">Pt</tspan>LOX13</text></g>
<g id="VvLOX2"><text transform="rotate(69)" x="-270" dy=".35em" text-anchor="end"><tspan class="i">Vv</tspan>LOX2</text></g>
<g id="OsLOX3"><text transform="rotate(73.3)" x="-270" dy=".35em" text-anchor="end"><tspan class="i">Os</tspan>LOX3</text></g>
<g id="OsLOX5"><text transform="rotate(77.6)" x="-270" dy=".35em" text-anchor="end"><tspan class="i">Os</tspan>LOX5</text></g>
<g id="OsLOX10"><text transform="rotate(81.9)" x="-270" dy=".35em" text-anchor="end"><tspan class="i">Os</tspan>LOX10</text></g>
<g id="OsLOX4"><text transform="rotate(86.2)" x="-270" dy=".35em" text-anchor="end"><tspan class="i">Os</tspan>LOX4</text></g>
<g id="GmLOX25"><text class="r" transform="rotate(280.2)" x="270" dy=".35em"><tspan class="i">Gm</tspan>LOX25</text></g>
<g id="GmLOX27"><text class="r" transform="rotate(284.5)" x="270" dy=".35em"><tspan class="i">Gm</tspan>LOX27</text></g>
<g id="GmLOX28"><text class="r" transform="rotate(288.7)" x="270" dy=".35em"><tspan class="i">Gm</tspan>LOX28</text></g>
<g id="GmLOX29"><text class="r" transform="rotate(293)" x="270" dy=".35em"><tspan class="i">Gm</tspan>LOX29</text></g>
<g id="GmLOX35"><text class="r" transform="rotate(297.2)" x="270" dy=".35em"><tspan class="i">Gm</tspan>LOX35</text></g>
<g id="GmLOX34"><text class="r" transform="rotate(301.5)" x="270" dy=".35em"><tspan class="i">Gm</tspan>LOX34</text></g>
<g id="GmLOX26"><text class="r" transform="rotate(305.8)" x="270" dy=".35em"><tspan class="i">Gm</tspan>LOX26</text></g>
<g id="PtLOX1"><text transform="rotate(310)" x="270" dy=".35em"><tspan class="i">Pt</tspan>LOX1</text></g>
<g id="PtLOX2"><text transform="rotate(314.3)" x="270" dy=".35em"><tspan class="i">Pt</tspan>LOX2</text></g>
<g id="PtLOX3"><text transform="rotate(318.5)" x="270" dy=".35em"><tspan class="i">Pt</tspan>LOX3</text></g>
<g id="PtLOX18"><text transform="rotate(322.8)" x="270" dy=".35em"><tspan class="i">Pt</tspan>LOX18</text></g>
<g id="VvLOX3"><text transform="rotate(327)" x="270" dy=".35em"><tspan class="i">Vv</tspan>LOX3</text></g>
<g id="VvLOX4"><text transform="rotate(331.3)" x="270" dy=".35em"><tspan class="i">Vv</tspan>LOX4</text></g>
<g id="VvLOX5"><text transform="rotate(335.6)" x="270" dy=".35em"><tspan class="i">Vv</tspan>LOX5</text></g>
<g id="PtLOX11"><text transform="rotate(339.8)" x="270" dy=".35em"><tspan class="i">Pt</tspan>LOX11</text></g>
<g id="VvLOX9"><text transform="rotate(344.1)" x="270" dy=".35em"><tspan class="i">Vv</tspan>LOX9</text></g>
<g id="AtLOX2"><text transform="rotate(348.3)" x="270" dy=".35em"><tspan class="i">At</tspan>LOX2</text></g>
<g id="OsLOX1"><text transform="rotate(352.6)" x="270" dy=".35em"><tspan class="i">Os</tspan>LOX1</text></g>
<g id="OsLOX11"><text transform="rotate(356.8)" x="270" dy=".35em"><tspan class="i">Os</tspan>LOX11</text></g>
<g id="OsLOX8"><text transform="rotate(1.1)" x="270" dy=".35em"><tspan class="i">Os</tspan>LOX8</text></g>
<g id="OsLOX9"><text transform="rotate(5.3)" x="270" dy=".35em"><tspan class="i">Os</tspan>LOX9</text></g>
<g id="GmLOX13"><text class="r" transform="rotate(9.6)" x="270" dy=".35em"><tspan class="i">Gm</tspan>LOX13</text></g>
<g id="GmLOX33"><text class="r" transform="rotate(13.9)" x="270" dy=".35em"><tspan class="i">Gm</tspan>LOX33</text></g>
<g id="GmLOX16"><text class="r" transform="rotate(18.1)" x="270" dy=".35em"><tspan class="i">Gm</tspan>LOX16</text></g>
<g id="GmLOX31"><text class="r" transform="rotate(22.4)" x="270" dy=".35em"><tspan class="i">Gm</tspan>LOX31</text></g>
<g id="AtLOX3"><text transform="rotate(26.6)" x="270" dy=".35em"><tspan class="i">At</tspan>LOX3</text></g>
<g id="AtLOX4"><text transform="rotate(30.9)" x="270" dy=".35em"><tspan class="i">At</tspan>LOX4</text></g>
<g id="PtLOX4"><text transform="rotate(35.1)" x="270" dy=".35em"><tspan class="i">Pt</tspan>LOX4</text></g>
<g id="VvLOX8"><text transform="rotate(39.4)" x="270" dy=".35em"><tspan class="i">Vv</tspan>LOX8</text></g>
<g id="OsLOX2"><text transform="rotate(43.6)" x="270" dy=".35em"><tspan class="i">Os</tspan>LOX2</text></g>
<g id="OsLOX6"><text transform="rotate(47.9)" x="270" dy=".35em"><tspan class="i">Os</tspan>LOX6</text></g>
<g id="GmLOX17"><text class="r" transform="rotate(52.1)" x="270" dy=".35em"><tspan class="i">Gm</tspan>LOX17</text></g>
<g id="PtLOX10"><text transform="rotate(56.4)" x="270" dy=".35em"><tspan class="i">Pt</tspan>LOX10</text></g>
<g id="PtLOX12"><text transform="rotate(60.7)" x="270" dy=".35em"><tspan class="i">Pt</tspan>LOX12</text></g>
<g id="VvLOX1"><text transform="rotate(64.9)" x="270" dy=".35em"><tspan class="i">Vv</tspan>LOX1</text></g>
<g id="AtLOX6"><text transform="rotate(69.2)" x="270" dy=".35em"><tspan class="i">At</tspan>LOX6</text></g>
<g id="GmLOX11"><text class="r" transform="rotate(73.6)" x="270" dy=".35em"><tspan class="i">Gm</tspan>LOX11</text></g>
<g id="GmLOX32"><text class="r" transform="rotate(77.9)" x="270" dy=".35em"><tspan class="i">Gm</tspan>LOX32</text></g>
<g id="PtLOX16"><text transform="rotate(82.1)" x="270" dy=".35em"><tspan class="i">Pt</tspan>LOX16</text></g>
<g id="PtLOX17"><text transform="rotate(86.4)" x="270" dy=".35em"><tspan class="i">Pt</tspan>LOX17</text></g>
<g id="VvLOX6"><text transform="rotate(-89.3)" x="-270" dy=".35em" text-anchor="end"><tspan class="i">Vv</tspan>LOX6</text></g>
<g id="VvLOX7"><text transform="rotate(-85.1)" x="-270" dy=".35em" text-anchor="end"><tspan class="i">Vv</tspan>LOX7</text></g>
<g id="OsLOX7"><text transform="rotate(-80.8)" x="-270" dy=".35em" text-anchor="end"><tspan class="i">Os</tspan>LOX7</text></g>
<g id="GmLOX14"><text class="r" transform="rotate(-76.5)" x="-270" dy=".35em" text-anchor="end"><tspan class="i">Gm</tspan>LOX14</text></g>
<g id="GmLOX21"><text class="r" transform="rotate(-72.2)" x="-270" dy=".35em" text-anchor="end"><tspan class="i">Gm</tspan>LOX21</text></g>
<g id="GmLOX6"><text class="r" transform="rotate(-68)" x="-270" dy=".35em" text-anchor="end"><tspan class="i">Gm</tspan>LOX6</text></g>
<g id="GmLOX8"><text class="r" transform="rotate(-63.7)" x="-270" dy=".35em" text-anchor="end"><tspan class="i">Gm</tspan>LOX8</text></g>
<g id="GmLOX19"><text class="r" transform="rotate(-59.4)" x="-270" dy=".35em" text-anchor="end"><tspan class="i">Gm</tspan>LOX19</text></g>
<g id="GmLOX9"><text class="r" transform="rotate(-55.1)" x="-270" dy=".35em" text-anchor="end"><tspan class="i">Gm</tspan>LOX9</text></g>
<g id="GmLOX15"><text class="r" transform="rotate(-50.9)" x="-270" dy=".35em" text-anchor="end"><tspan class="i">Gm</tspan>LOX15</text></g>
<g id="GmLOX18"><text class="r" transform="rotate(-46.6)" x="-270" dy=".35em" text-anchor="end"><tspan class="i">Gm</tspan>LOX18</text></g>
<g id="GmLOX20"><text class="r" transform="rotate(-42.3)" x="-270" dy=".35em" text-anchor="end"><tspan class="i">Gm</tspan>LOX20</text></g>
<g id="GmLOX2"><text class="r" transform="rotate(-38)" x="-270" dy=".35em" text-anchor="end"><tspan class="i">Gm</tspan>LOX2</text></g>
<g id="GmLOX1"><text class="r" transform="rotate(-33.7)" x="-270" dy=".35em" text-anchor="end"><tspan class="i">Gm</tspan>LOX1</text></g>
<g id="GmLOX10"><text class="r" transform="rotate(-29.5)" x="-270" dy=".35em" text-anchor="end"><tspan class="i">Gm</tspan>LOX10</text></g>
<g id="GmLOX22"><text class="r" transform="rotate(-25.2)" x="-270" dy=".35em" text-anchor="end"><tspan class="i">Gm</tspan>LOX22</text></g>
<g id="GmLOX4"><text class="r" transform="rotate(-20.9)" x="-270" dy=".35em" text-anchor="end"><tspan class="i">Gm</tspan>LOX4</text></g>
<g id="GmLOX5"><text class="r" transform="rotate(-16.7)" x="-270" dy=".35em" text-anchor="end"><tspan class="i">Gm</tspan>LOX5</text></g>
<g id="GmLOX7"><text class="r" transform="rotate(-12.4)" x="-270" dy=".35em" text-anchor="end"><tspan class="i">Gm</tspan>LOX7</text></g>
<g id="GmLOX30"><text class="r" transform="rotate(-8.1)" x="-270" dy=".35em" text-anchor="end"><tspan class="i">Gm</tspan>LOX30</text></g>
<g id="GmLOX3"><text class="r" transform="rotate(-3.9)" x="-270" dy=".35em" text-anchor="end"><tspan class="i">Gm</tspan>LOX3</text></g>
</g>
</g>
</svg>
